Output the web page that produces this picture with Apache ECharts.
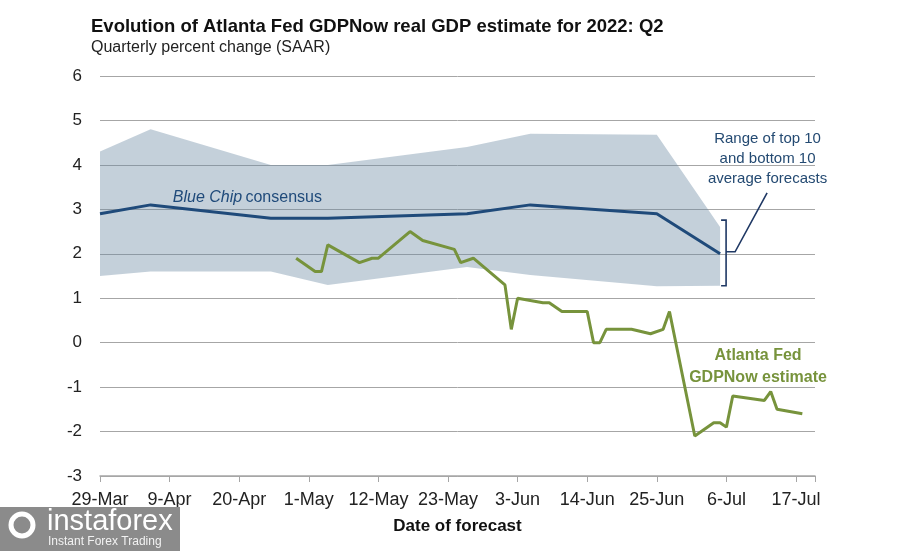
<!DOCTYPE html>
<html><head><meta charset="utf-8">
<script src="https://cdn.jsdelivr.net/npm/echarts@6/dist/echarts.min.js"></script>
<style>html,body{margin:0;padding:0;background:#fff}#c{width:913px;height:551px}</style>
</head><body><div id="c"></div>
<script>
// ---- data ----
const xTickLabels = ['29-Mar','9-Apr','20-Apr','1-May','12-May','23-May','3-Jun','14-Jun','25-Jun','6-Jul','17-Jul'];
const axisStart = '2022-03-29';
const axisEnd = '2022-07-20';
const tickStepDays = 11;
const yMin = -3, yMax = 6, yStep = 1;

const bandDates = ['2022-03-29','2022-04-06','2022-04-25','2022-05-04','2022-05-26','2022-06-05','2022-06-25','2022-07-05'];
const blueChipConsensus = [2.9, 3.1, 2.8, 2.8, 2.9, 3.1, 2.9, 2.0];
const rangeTop10 = [4.3, 4.8, 4.0, 4.0, 4.4, 4.7, 4.68, 2.6];
const rangeBottom10 = [1.5, 1.6, 1.6, 1.3, 1.7, 1.52, 1.27, 1.28];

const gdpNowDates = ['2022-04-29','2022-05-02','2022-05-03','2022-05-04','2022-05-09','2022-05-11','2022-05-12',
  '2022-05-17','2022-05-19','2022-05-24','2022-05-25','2022-05-27','2022-06-01','2022-06-02','2022-06-03',
  '2022-06-07','2022-06-08','2022-06-10','2022-06-14','2022-06-15','2022-06-16','2022-06-17','2022-06-21',
  '2022-06-24','2022-06-26','2022-06-27','2022-07-01','2022-07-04','2022-07-05','2022-07-06','2022-07-07',
  '2022-07-12','2022-07-13','2022-07-14','2022-07-18'];
const gdpNowEstimate = [1.9,1.6,1.6,2.2,1.8,1.9,1.9,2.5,2.3,2.1,1.8,1.9,1.3,0.3,1.0,0.9,0.9,0.7,0.7,0.0,0.0,0.3,0.3,0.2,0.3,0.7,-2.1,-1.8,-1.8,-1.9,-1.2,-1.3,-1.1,-1.5,-1.6];

// ---- helpers ----
function utc(s){ const p = s.split('-'); return Date.UTC(+p[0], +p[1]-1, +p[2]); }
const START = utc(axisStart);
function day(s){ return (utc(s) - START) / 86400000; }

const navy = '#1f4a7a';
const green = '#77933c';
const bandColor = 'rgba(108,137,162,0.40)';
const narrow = '"Liberation Sans Narrow", "Liberation Sans", Arial, sans-serif';
const sans = '"Liberation Sans", Arial, sans-serif';

const chart = echarts.init(document.getElementById('c'), null, {renderer: 'canvas'});

const bandTopPts = bandDates.map((d, i) => [day(d), rangeTop10[i]]);
const bandBotPts = bandDates.map((d, i) => [day(d), rangeBottom10[i]]);

const option = {
  animation: false,
  backgroundColor: '#fff',
  grid: {left: 100, right: 98, top: 76, bottom: 75, containLabel: false},
  xAxis: {
    type: 'value', min: 0, max: day(axisEnd), interval: tickStepDays,
    axisLine: {show: true, onZero: false, lineStyle: {color: '#a6a6a6', width: 1.5}},
    axisTick: {show: true, length: 6, lineStyle: {color: '#a6a6a6'}},
    splitLine: {show: false},
    axisLabel: {
      margin: 15, color: '#222', fontFamily: narrow, fontSize: 18,
      formatter: v => { const i = Math.round(v / tickStepDays); return (Math.abs(v - i*tickStepDays) < 1e-6 && xTickLabels[i]) ? xTickLabels[i] : ''; }
    },
    name: 'Date of forecast', nameLocation: 'middle', nameGap: 42,
    nameTextStyle: {fontFamily: narrow, fontWeight: 'bold', fontSize: 17, color: '#111'}
  },
  yAxis: {
    type: 'value', min: yMin, max: yMax, interval: yStep,
    axisLine: {show: false}, axisTick: {show: false},
    splitLine: {show: true, lineStyle: {color: '#a6a6a6', width: 1}},
    axisLabel: {margin: 18, color: '#222', fontFamily: sans, fontSize: 17}
  },
  series: [
    {
      name: 'Range of top 10 and bottom 10 average forecasts', type: 'custom', silent: true, z: 1,
      data: [[0, 0]],
      renderItem: (params, api) => {
        const pts = bandTopPts.map(p => api.coord(p)).concat(bandBotPts.slice().reverse().map(p => api.coord(p)));
        return {type: 'polygon', shape: {points: pts}, style: {fill: bandColor}};
      }
    },
    {
      name: 'Blue Chip consensus', type: 'line', symbol: 'none',
      lineStyle: {color: navy, width: 3},
      data: bandDates.map((d, i) => [day(d), blueChipConsensus[i]]), z: 3
    },
    {
      name: 'Atlanta Fed GDPNow estimate', type: 'line', symbol: 'none',
      lineStyle: {color: green, width: 3},
      data: gdpNowDates.map((d, i) => [day(d), gdpNowEstimate[i]]), z: 4
    }
  ]
};
chart.setOption(option);

// annotations anchored to data
const n = bandDates.length - 1;
const lastD = day(bandDates[n]);
const pTop = chart.convertToPixel({gridIndex: 0}, [lastD, rangeTop10[n]]);
const pBot = chart.convertToPixel({gridIndex: 0}, [lastD, rangeBottom10[n]]);
const pMid = chart.convertToPixel({gridIndex: 0}, [lastD, blueChipConsensus[n]]);
const bx = pTop[0] + 6;
const labelPt = chart.convertToPixel({gridIndex: 0}, [day('2022-04-09') + 0.5, 3.26]);
const rangePt = chart.convertToPixel({gridIndex: 0}, [day('2022-07-12') + 0.5, 4.8]);
const gdpPt = chart.convertToPixel({gridIndex: 0}, [day('2022-07-11'), -0.05]);

chart.setOption({
  graphic: [
    {type: 'text', left: 91, top: 17, style: {text: 'Evolution of Atlanta Fed GDPNow real GDP estimate for 2022: Q2',
      font: 'bold 18.5px ' + narrow, fill: '#111'}},
    {type: 'text', left: 91, top: 40, style: {text: 'Quarterly percent change (SAAR)',
      font: '16px ' + narrow, fill: '#222'}},
    {type: 'text', x: labelPt[0], y: labelPt[1], z: 10, style: {
      text: '{i|Blue Chip} {n|consensus}',
      rich: {i: {fontStyle: 'italic', fontSize: 16, fontFamily: sans, fill: navy, color: navy},
             n: {fontSize: 16, fontFamily: sans, fill: navy, color: navy}},
      verticalAlign: 'middle'}},
    {type: 'text', x: rangePt[0], y: rangePt[1], z: 10, style: {
      text: 'Range of top 10\nand bottom 10\naverage forecasts', align: 'center', verticalAlign: 'top',
      font: '15px ' + sans, lineHeight: 20, fill: '#244a72'}},
    {type: 'text', x: gdpPt[0], y: gdpPt[1], z: 10, style: {
      text: 'Atlanta Fed\nGDPNow estimate', align: 'center', verticalAlign: 'top',
      font: 'bold 16px ' + sans, lineHeight: 22, fill: green}},
    {type: 'polyline', z: 10, shape: {points: [[bx-5, pTop[1]-7], [bx, pTop[1]-7], [bx, pBot[1]], [bx-5, pBot[1]]]},
      style: {stroke: '#1f3864', lineWidth: 1.6, fill: null}},
    {type: 'polyline', z: 10, shape: {points: [[bx, pMid[1]-2], [bx+9, pMid[1]-2], [bx+41, pMid[1]-61]]},
      style: {stroke: '#1f3864', lineWidth: 1.6, fill: null}},
    // watermark
    {type: 'rect', left: 0, top: 507, shape: {width: 180, height: 44}, style: {fill: '#8b8b8b'}, z: 20},
    {type: 'circle', shape: {cx: 22, cy: 525, r: 11}, style: {fill: null, stroke: '#fff', lineWidth: 5}, z: 21},
    {type: 'text', left: 47, top: 507, z: 21, style: {text: 'instaforex', font: '29px ' + sans, fill: '#fff'}},
    {type: 'text', left: 48, top: 536, z: 21, style: {text: 'Instant Forex Trading', font: '12px ' + sans, fill: '#f2f2f2'}}
  ]
});
</script></body></html>
